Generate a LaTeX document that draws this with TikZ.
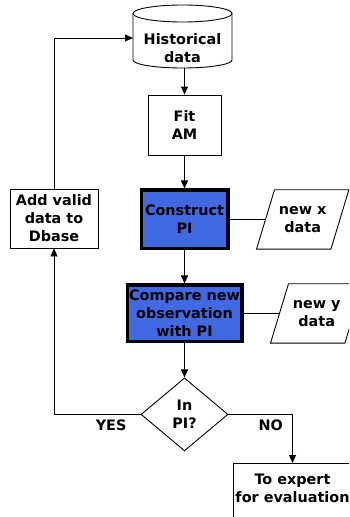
\documentclass[tikz,border=0pt]{standalone}
\usepackage{fontspec}
\setmainfont{DejaVu Sans}
\usetikzlibrary{arrows.meta, positioning, shapes.geometric}
\definecolor{piblue}{RGB}{65,105,225}

\begin{document}
\begin{tikzpicture}[x=1pt, y=-1pt, >={Triangle[length=8pt, width=7pt]}, node distance=33pt]
        \useasboundingbox (0,0) rectangle (349,517);
        \clip (0,0) rectangle (349,517);
        \tikzstyle{every node}=[font=\bfseries\fontsize{14.4}{18}\selectfont, align=center, inner sep=0pt]
        \tikzstyle{edge}=[draw, line width=0.9pt]
        \tikzstyle{box}=[edge, minimum width=73pt, minimum height=60pt]
        \tikzstyle{pibox}=[draw, line width=3.5pt, fill=piblue]
        \tikzstyle{datain}=[minimum width=74pt, minimum height=59pt]

        % database drum
        \draw[edge] (133,13.5) -- (133,60) arc[start angle=180, end angle=360, x radius=49.5pt, y radius=8pt] -- (232,13.5);
        \draw[edge] (182.5,13.5) ellipse[x radius=49.5pt, y radius=8.5pt];

        % Nodes
        \node (hist) at (182.5,48.5) {Historical\\data};
        \coordinate (histbot) at (184.5,68);
        \coordinate (histin) at (133,38);
        \node[box] (fit) at (184.5,125) {Fit\\AM};
        \node[pibox, minimum width=86.5pt, minimum height=58.5pt, below=of fit] (construct) {Construct\\PI};
        \node[pibox, minimum width=114.5pt, minimum height=56.5pt, below=of construct] (compare) {Compare new\\observation\\with PI};
        \node[edge, diamond, minimum width=87pt, minimum height=73pt, below=34pt of compare] (inpi) {In\\PI?};

        % Side nodes
        \node[datain, right=36pt of construct] (newx) {new x\\data};
        \node[datain, right=36pt of compare] (newy) {new y\\data};
        \node[box, minimum width=88pt, minimum height=59pt] (add) at (54,218.5) {Add valid\\data to\\Dbase};
        \node[edge, anchor=north, inner xsep=1pt, inner ysep=11pt, text depth=40pt, minimum width=118pt] (expert) at (292.5,463) {To expert\\for evaluation};

        \foreach \n in {newx, newy}
          \draw[edge] ([xshift=-9pt]\n.south west) -- ([xshift=-9pt]\n.south east) -- ([xshift=9pt]\n.north east) -- ([xshift=9pt]\n.north west) -- cycle;

        % Edges
        \draw[edge, ->] (histbot) -- (fit);
        \draw[edge, ->] (fit) -- (construct);
        \draw[edge, ->] (construct) -- (compare);
        \draw[edge, ->] (compare) -- (inpi);
        \draw[edge] (construct) -- (newx);
        \draw[edge] (compare) -- (newy);
        \draw[edge, ->] (inpi.west) -| node[pos=0.17, below=5pt] {YES} (add);
        \draw[edge, ->] (add) |- (histin);
        \draw[edge, ->] (inpi.east) -| node[pos=0.33, below=5pt] {NO} (expert);

\end{tikzpicture}
\end{document}
